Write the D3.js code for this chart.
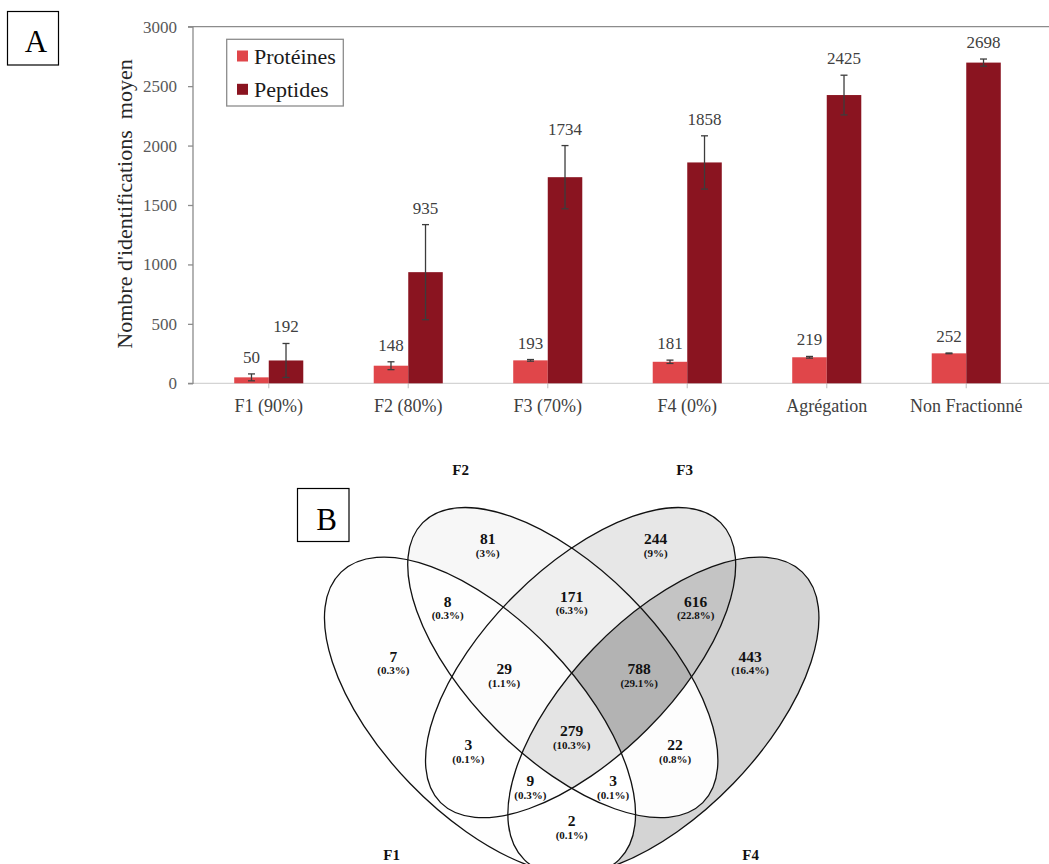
<!DOCTYPE html>
<html><head><meta charset="utf-8">
<script src="https://cdn.jsdelivr.net/npm/d3@7"></script>
<style>
body{margin:0;background:#fff}
svg{display:block}
text{font-family:"Liberation Serif","Times New Roman",serif}
</style>
</head><body>
<svg id="chart" width="1049" height="864"></svg>
<script>
// ---------- DATA (panel A) ----------
const categories = ["F1 (90%)","F2 (80%)","F3 (70%)","F4 (0%)","Agrégation","Non Fractionné"];
const seriesNames = ["Protéines","Peptides"];
const proteines = [50,148,193,181,219,252];
const peptides = [192,935,1734,1858,2425,2698];
const proteinesErr = [29,33,7,14,7,3];
const peptidesErr = [143,400,266,224,167,30];
const yTicks = [0,500,1000,1500,2000,2500,3000];
const yTitle = "Nombre d'identifications  moyen";

// ---------- DATA (panel B, Venn) ----------
const vennSetNames = ["F1","F2","F3","F4"];
const vennRegionSets = [[0],[1],[2],[3],[0,1],[1,2],[2,3],[0,1,2],[1,2,3],[0,1,2,3],[0,2],[1,3],[0,2,3],[0,1,3],[0,3]];
const vennCounts = [7,81,244,443,8,171,616,29,788,279,3,22,9,3,2];
const vennPcts = ["(0.3%)","(3%)","(9%)","(16.4%)","(0.3%)","(6.3%)","(22.8%)","(1.1%)","(29.1%)","(10.3%)","(0.1%)","(0.8%)","(0.3%)","(0.1%)","(0.1%)"];

// ---------- LAYOUT ----------
const W = 1049, H = 864;
const plot = {left:193, right:1049, top:26.7, bottom:383.3, bandL:199, bandR:1036};
const colors = {"Protéines":"#e0464a","Peptides":"#8a1420"};
const vennOrigin = [571.7, 716];
const vennEllipses = [
  {cx:-91.7, cy:0,     rx:200,   ry:97.2, rot:46},
  {cx:-8.9,  cy:-53.4, rx:198,   ry:94.3, rot:45},
  {cx:8.9,   cy:-53.4, rx:198,   ry:94.3, rot:-45},
  {cx:91.7,  cy:0,     rx:200,   ry:97.2, rot:-46}
];
const vennLabelPos = [[-178.4,-59.3],[-84,-176.7],[84,-176.7],[178.4,-59.3],[-124,-114.3],[0,-119.3],[124,-114.3],
  [-67.5,-46.7],[67.5,-46.7],[0,15],[-103.4,29],[103.4,29],[-41.4,65],[41.4,65],[0,105]];
const vennSetLabelPos = [[-180,144],[-111,-241],[113,-241],[179,144]];

const svg = d3.select("#chart");
svg.append("rect").attr("width",W).attr("height",H).attr("fill","#fff");

// ---------- PANEL A ----------
const x0 = d3.scaleBand().domain(categories).range([plot.bandL, plot.bandR]).paddingInner(0.505).paddingOuter(0.2525);
const x1 = d3.scaleBand().domain(seriesNames).range([0, x0.bandwidth()]);
const y = d3.scaleLinear().domain([0,3000]).range([plot.bottom, plot.top]);

const series = [
  {name:seriesNames[0], values:proteines, err:proteinesErr},
  {name:seriesNames[1], values:peptides, err:peptidesErr}
];

// frame lines
svg.append("line").attr("x1",plot.left).attr("x2",plot.right).attr("y1",plot.top).attr("y2",plot.top)
  .attr("stroke","#8c8c8c").attr("stroke-width",1.3);
svg.append("line").attr("x1",plot.left).attr("x2",plot.right).attr("y1",plot.bottom).attr("y2",plot.bottom)
  .attr("stroke","#d4d4d4").attr("stroke-width",1.3);

// y axis
const yAxis = svg.append("g").attr("transform",`translate(${plot.left},0)`)
  .call(d3.axisLeft(y).tickValues(yTicks).tickSize(5).tickPadding(11).tickFormat(d3.format("d")));
yAxis.select(".domain").attr("stroke","#8c8c8c").attr("stroke-width",1.3).attr("d",`M-5,${plot.top}H0V${plot.bottom}H-5`);
yAxis.selectAll(".tick line").attr("stroke","#8c8c8c").attr("stroke-width",1.3);
yAxis.selectAll(".tick text").attr("font-size",17).attr("fill","#595959").attr("font-family","Liberation Serif, serif");

// x axis
const xAxis = svg.append("g").attr("transform",`translate(0,${plot.bottom})`)
  .call(d3.axisBottom(x0).tickSize(5).tickPadding(11));
xAxis.select(".domain").remove();
xAxis.selectAll(".tick line").attr("stroke","#c8c8c8").attr("stroke-width",1.2);
xAxis.selectAll(".tick text").attr("font-size",18).attr("fill","#404040").attr("font-family","Liberation Serif, serif");

// y title
svg.append("text").attr("transform",`translate(132,204) rotate(-90)`).attr("text-anchor","middle")
  .attr("font-size",22).attr("fill","#262626").style("white-space","pre").text(yTitle);

// bars
const groups = svg.append("g").selectAll("g").data(categories).join("g")
  .attr("transform",d=>`translate(${x0(d)},0)`);
series.forEach(s=>{
  groups.append("rect")
    .attr("x",x1(s.name)).attr("width",x1.bandwidth())
    .attr("y",(d,i)=>y(s.values[i])).attr("height",(d,i)=>y(0)-y(s.values[i]))
    .attr("fill",colors[s.name]);
});
// error bars + labels
series.forEach(s=>{
  const cx = x1(s.name)+x1.bandwidth()/2;
  groups.append("line").attr("x1",cx).attr("x2",cx)
    .attr("y1",(d,i)=>y(s.values[i]+s.err[i])).attr("y2",(d,i)=>y(s.values[i]-s.err[i]))
    .attr("stroke","#3c3c3c").attr("stroke-width",1.3);
  [1,-1].forEach(sg=>{
    groups.append("line").attr("x1",cx-3.5).attr("x2",cx+3.5)
      .attr("y1",(d,i)=>y(s.values[i]+sg*s.err[i])).attr("y2",(d,i)=>y(s.values[i]+sg*s.err[i]))
      .attr("stroke","#3c3c3c").attr("stroke-width",1.3);
  });
  groups.append("text").attr("x",cx).attr("y",(d,i)=>y(s.values[i]+s.err[i])-11)
    .attr("text-anchor","middle").attr("font-size",17).attr("fill","#404040")
    .text((d,i)=>s.values[i]);
});

// legend
const lg = svg.append("g");
lg.append("rect").attr("x",226.7).attr("y",39.3).attr("width",116.6).attr("height",66.7)
  .attr("fill","#fff").attr("stroke","#8c8c8c").attr("stroke-width",1.3);
seriesNames.forEach((n,i)=>{
  lg.append("rect").attr("x",237).attr("y",50.5+i*33.3).attr("width",11).attr("height",11).attr("fill",colors[n]);
  lg.append("text").attr("x",254).attr("y",63.5+i*33.3).attr("font-size",22).attr("fill","#1a1a1a").text(n);
});

// panel letters
function letterBox(x,yy,w,h,t,tx,ty){
  svg.append("rect").attr("x",x).attr("y",yy).attr("width",w).attr("height",h)
    .attr("fill","#fff").attr("stroke","#000").attr("stroke-width",1.2);
  svg.append("text").attr("x",tx).attr("y",ty).attr("text-anchor","middle").attr("font-size",31).attr("fill","#000").text(t);
}
letterBox(7.5,11.5,51,53.5,"A",36,51.5);
letterBox(297.5,488.5,51.5,53,"B",326.5,529.5);

// ---------- PANEL B ----------
const defs = svg.append("defs");
const venn = svg.append("g").attr("transform",`translate(${vennOrigin[0]},${vennOrigin[1]})`);
const fillScale = d3.scaleLinear().domain([0, d3.max(vennCounts)]).range(["#ffffff","#b3b3b3"]);
function addEllipse(sel,e){
  return sel.append("ellipse").attr("cx",e.cx).attr("cy",e.cy).attr("rx",e.rx).attr("ry",e.ry)
    .attr("transform",`rotate(${e.rot},${e.cx},${e.cy})`);
}
vennEllipses.forEach((e,i)=>{
  addEllipse(defs.append("clipPath").attr("id","vclip"+i), e);
});
vennRegionSets.forEach((s,k)=>{
  const m = defs.append("mask").attr("id","vmask"+k).attr("maskUnits","userSpaceOnUse")
    .attr("x",-700).attr("y",-800).attr("width",1400).attr("height",1600);
  m.append("rect").attr("x",-700).attr("y",-800).attr("width",1400).attr("height",1600).attr("fill","#fff");
  vennEllipses.forEach((e,i)=>{ if(!s.includes(i)) addEllipse(m,e).attr("fill","#000"); });
  let g = venn.append("g").attr("mask",`url(#vmask${k})`);
  s.forEach(i=>{ g = g.append("g").attr("clip-path",`url(#vclip${i})`); });
  g.append("rect").attr("x",-700).attr("y",-800).attr("width",1400).attr("height",1600).attr("fill",fillScale(vennCounts[k]));
});
vennEllipses.forEach(e=>{
  addEllipse(venn,e).attr("fill","none").attr("stroke","#111").attr("stroke-width",1.3);
});
vennCounts.forEach((c,k)=>{
  const p = vennLabelPos[k];
  venn.append("text").attr("x",p[0]).attr("y",p[1]+5).attr("text-anchor","middle")
    .attr("font-size",15.5).attr("font-weight","bold").attr("fill","#111").text(c);
  venn.append("text").attr("x",p[0]).attr("y",p[1]+17.5).attr("text-anchor","middle")
    .attr("font-size",11).attr("font-weight","bold").attr("fill","#111").text(vennPcts[k]);
});
vennSetNames.forEach((n,i)=>{
  const p = vennSetLabelPos[i];
  venn.append("text").attr("x",p[0]).attr("y",p[1]).attr("text-anchor","middle")
    .attr("font-size",15).attr("font-weight","bold").attr("fill","#111").text(n);
});
</script>
</body></html>
